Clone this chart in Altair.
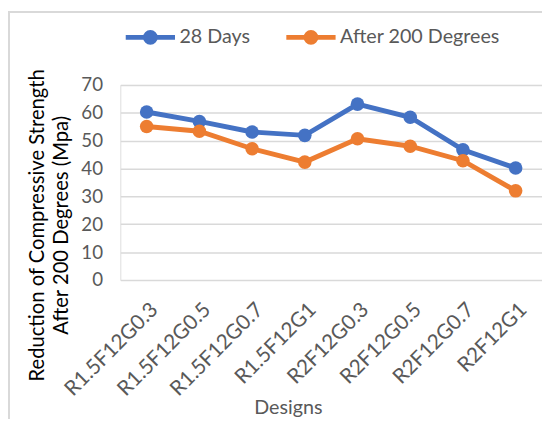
import altair as alt
import pandas as pd

designs = ["R1.5F12G0.3", "R1.5F12G0.5", "R1.5F12G0.7", "R1.5F12G1",
           "R2F12G0.3", "R2F12G0.5", "R2F12G0.7", "R2F12G1"]
days28 = [60.3, 56.9, 53.1, 51.9, 63.1, 58.4, 46.7, 40.2]
after200 = [55.1, 53.4, 47.1, 42.3, 50.7, 48.0, 42.8, 32.0]
series_names = ["28 Days", "After 200 Degrees"]
series_colors = ["#4472C4", "#ED7D31"]
y_ticks = [0, 10, 20, 30, 40, 50, 60, 70]

rows = []
for d, v in zip(designs, days28):
    rows.append({"Design": d, "Series": series_names[0], "Value": v})
for d, v in zip(designs, after200):
    rows.append({"Design": d, "Series": series_names[1], "Value": v})
df = pd.DataFrame(rows)

FONT = "Lato"
LABEL = "#595959"

legend_shape = ("M-1,0 L1,0 "
                "M0.2,0 A0.2,0.2 0 1,1 -0.2,0 A0.2,0.2 0 1,1 0.2,0 "
                "M0.1,0 A0.1,0.1 0 1,1 -0.1,0 A0.1,0.1 0 1,1 0.1,0 "
                "M0.02,0 A0.02,0.02 0 1,1 -0.02,0 A0.02,0.02 0 1,1 0.02,0")

x_enc = alt.X("Design:N", sort=designs,
              scale=alt.Scale(type="point", padding=0.5),
              axis=alt.Axis(title="Designs", labelAngle=-45, labelAlign="right",
                            labelBaseline="top", labelFontSize=21, labelColor=LABEL,
                            labelFont=FONT, labelPadding=19, ticks=False, domain=False,
                            titleFontSize=20, titleFont=FONT, titleColor=LABEL,
                            titleFontWeight="normal", titleX=170, titleY=129,
                            titleBaseline="middle", titleAnchor="middle"))
y_enc = alt.Y("Value:Q", scale=alt.Scale(domain=[0, 70], nice=False),
              axis=alt.Axis(values=y_ticks, title=["Reduction of Compressive Strength",
                                                    "After 200 Degrees (Mpa)"],
                            labelFontSize=19, labelColor=LABEL, labelFont=FONT,
                            labelPadding=18, ticks=False, domain=False,
                            gridColor="#d9d9d9", gridWidth=1.5,
                            titleFontSize=20.5, titleFont=FONT, titleColor="#000000",
                            titleFontWeight="normal", titleLineHeight=24,
                            titleAngle=270, titleBaseline="top", titleAlign="center",
                            titleX=-94, titleY=142))
color_enc = alt.Color("Series:N", scale=alt.Scale(domain=series_names, range=series_colors),
                      legend=alt.Legend(title=None, orient="none", direction="horizontal",
                                        legendX=3, legendY=-76,
                                        symbolType=legend_shape, symbolSize=2500,
                                        symbolStrokeWidth=5, labelFontSize=20,
                                        labelFont=FONT, labelColor=LABEL, labelLimit=400,
                                        labelOffset=2, columnPadding=26))

lines = alt.Chart(df).mark_line(
    strokeWidth=5,
    point=alt.OverlayMarkDef(filled=True, size=190, opacity=1),
).encode(x=x_enc, y=y_enc, color=color_enc)

frame = alt.Chart(df).mark_rect(fill=None, stroke="#d9d9d9", strokeWidth=1.5).encode(
    x=alt.value(-113), x2=alt.value(440), y=alt.value(-74), y2=alt.value(500))

chart = alt.layer(frame, lines).properties(
    width=428, height=198,
    autosize=alt.AutoSizeParams(type="none"),
    padding={"left": 114, "top": 75, "right": 0, "bottom": 138},
).configure_view(stroke=None).configure(font=FONT)

chart.save("out.html", embed_options={"renderer": "svg", "actions": False})
